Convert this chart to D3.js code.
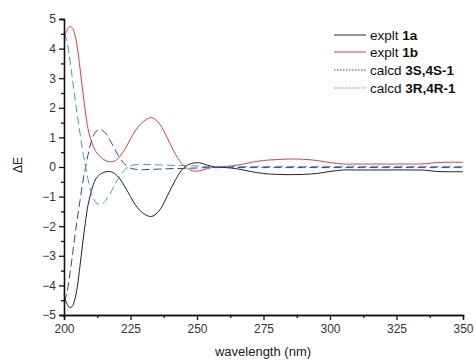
<!DOCTYPE html>
<html><head><meta charset="utf-8">
<script src="https://cdn.jsdelivr.net/npm/d3@7"></script>
<style>body{margin:0;background:#fff}svg{display:block}text{font-family:"Liberation Sans",Arial,sans-serif}</style>
</head><body><svg id="c" width="475" height="361"></svg>
<script>
const wavelengths = [200,201,202,203,204,205,206,207,208,209,210,211,212,213.5,215,217,219,221,223,225,227,230,233,236,239,242,245,248,251,254,257,261,265,270,275,280,285,290,295,300,305,310,320,330,336,340,345,350];
const expt1a = [-4.3,-4.6,-4.74,-4.72,-4.5,-4.05,-3.35,-2.6,-1.9,-1.3,-0.92,-0.6,-0.4,-0.25,-0.18,-0.15,-0.22,-0.4,-0.68,-1.0,-1.3,-1.58,-1.67,-1.45,-0.95,-0.42,-0.03,0.12,0.14,0.06,0.0,-0.02,-0.06,-0.15,-0.22,-0.25,-0.26,-0.25,-0.22,-0.15,-0.1,-0.1,-0.1,-0.1,-0.11,-0.15,-0.16,-0.16];
const expt1b = [4.3,4.6,4.74,4.72,4.5,4.05,3.35,2.6,1.9,1.3,0.95,0.7,0.52,0.36,0.25,0.18,0.2,0.35,0.62,0.95,1.25,1.55,1.67,1.45,0.95,0.42,0.05,-0.12,-0.13,-0.05,0.0,0.02,0.06,0.15,0.22,0.25,0.27,0.26,0.22,0.15,0.1,0.1,0.1,0.1,0.11,0.15,0.16,0.16];
const calc3S4S = [-4.55,-4.3,-3.75,-3.1,-2.4,-1.75,-1.15,-0.55,-0.05,0.4,0.78,1.05,1.2,1.27,1.2,0.95,0.62,0.3,0.08,-0.04,-0.08,-0.09,-0.08,-0.07,-0.06,-0.05,-0.05,-0.04,-0.03,-0.02,-0.02,-0.02,-0.02,-0.02,-0.02,-0.02,-0.02,-0.02,-0.02,-0.02,-0.02,-0.02,-0.02,-0.02,-0.02,-0.02,-0.02,-0.02];
const calc3R4R = [4.5,4.3,3.75,3.1,2.4,1.75,1.15,0.55,0.05,-0.4,-0.78,-1.05,-1.2,-1.27,-1.2,-0.95,-0.62,-0.3,-0.08,0.04,0.08,0.09,0.08,0.07,0.06,0.05,0.05,0.04,0.03,0.02,0.02,0.02,0.02,0.02,0.02,0.02,0.02,0.02,0.02,0.02,0.02,0.02,0.02,0.02,0.02,0.02,0.02,0.02];
const xTicks = [200,225,250,275,300,325,350];
const yTicks = [-5,-4,-3,-2,-1,0,1,2,3,4,5];
const legendLabels = [["explt ","1a"],["explt ","1b"],["calcd ","3S,4S-1"],["calcd ","3R,4R-1"]];

const svg = d3.select("#c");
const x = d3.scaleLinear().domain([200,350]).range([64,463]);
const y = d3.scaleLinear().domain([-5,5]).range([315,19]);

const series = [
  {v: expt1a, color:"#222222", dash:null, ldash:null},
  {v: expt1b, color:"#d94040", dash:null, ldash:null},
  {v: calc3S4S, color:"#3a3ab8", dash:"8,4", ldash:"1.5,1.5"},
  {v: calc3R4R, color:"#3fa3a3", dash:"8,4", ldash:"1.5,1.5"}
];
const line = d3.line().x(d=>x(d[0])).y(d=>y(d[1])).curve(d3.curveCatmullRom.alpha(0.5));
series.forEach(s=>{
  svg.append("path").datum(wavelengths.map((w,i)=>[w,s.v[i]]))
    .attr("d", line).attr("fill","none").attr("stroke", s.color).attr("stroke-width",1)
    .attr("stroke-dasharray", s.dash);
});

// axes
svg.append("g").attr("transform","translate(0,315)")
  .call(d3.axisBottom(x).tickValues(xTicks).tickSize(5).tickPadding(4).tickFormat(d3.format("d")));
svg.append("g").attr("transform","translate(0,315)")
  .call(d3.axisBottom(x).tickValues(d3.range(212.5,350,25)).tickSize(3).tickFormat(""));
svg.append("g").attr("transform","translate(64,0)")
  .call(d3.axisLeft(y).tickValues(yTicks).tickSize(5).tickPadding(3).tickFormat(d3.format("d")));
svg.append("g").attr("transform","translate(64,0)")
  .call(d3.axisLeft(y).tickValues(d3.range(-4.5,5,1)).tickSize(3).tickFormat(""));
svg.selectAll(".domain, .tick line").attr("stroke","#111").attr("stroke-width",1.3);
svg.selectAll(".tick text").attr("font-size",12).attr("fill","#333").attr("font-family","Liberation Sans, Arial, sans-serif");

svg.append("text").attr("x",263).attr("y",356).attr("text-anchor","middle").attr("font-size",13).attr("fill","#222").text("wavelength (nm)");
svg.append("text").attr("transform","translate(22,165) rotate(-90)").attr("text-anchor","middle").attr("font-size",12).attr("fill","#222").text("ΔE");

// legend
const ly = [35,52,70,88];
series.forEach((s,i)=>{
  svg.append("line").attr("x1",334).attr("x2",366).attr("y1",ly[i]).attr("y2",ly[i])
    .attr("stroke",s.color).attr("stroke-width",1).attr("stroke-dasharray",s.ldash);
  const t = svg.append("text").attr("x",370).attr("y",ly[i]+4.5).attr("font-size",13.5).attr("fill","#111");
  t.append("tspan").text(legendLabels[i][0]);
  t.append("tspan").attr("font-weight","bold").text(legendLabels[i][1]);
});
</script></body></html>
